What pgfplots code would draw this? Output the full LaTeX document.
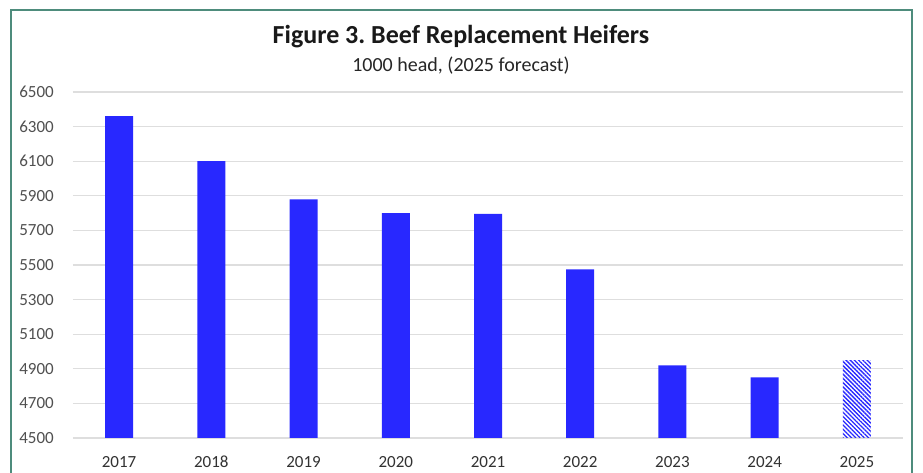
\documentclass[border=0pt]{standalone}
\usepackage{fontspec}
\setmainfont{Carlito}
\usepackage{pgfplots}
\pgfplotsset{compat=1.18}
\usetikzlibrary{patterns.meta}
\definecolor{barblue}{RGB}{40,40,255}
\definecolor{frame}{RGB}{78,140,124}
\definecolor{gridgray}{RGB}{222,222,222}
\definecolor{labgray}{RGB}{80,80,80}
\definecolor{xlabgray}{RGB}{50,50,50}
\begin{document}
\frenchspacing
\begin{tikzpicture}[x=1pt,y=1pt]
\useasboundingbox (0,0) rectangle (923,473);
\fill[white] (0,0) rectangle (923,473);
\draw[frame, line width=2.2pt] (11,0) -- (11,463) -- (912,463) -- (912,0);
\node[font=\bfseries\fontsize{26}{30}\selectfont, text=black!90] at (461,436) {Figure 3. Beef Replacement Heifers};
\node[font=\fontsize{20}{24}\selectfont, text=black!85] at (461,407) {1000 head, (2025 forecast)};
\begin{axis}[
  at={(73pt,35pt)}, anchor=south west,
  scale only axis, width=830pt, height=346pt,
  xmin=-0.5, xmax=8.5, ymin=4500, ymax=6500,
  ytick={4500,4700,...,6500},
  xtick={0,...,8},
  xticklabels={2017,2018,2019,2020,2021,2022,2023,2024,2025},
  ymajorgrids, grid style={draw=gridgray, line width=1.2pt},
  axis line style={draw=none},
  major tick length=0pt,
  /pgf/number format/assume math mode=true,
  /pgf/number format/set thousands separator={},
  yticklabel style={font=\fontsize{17}{20}\selectfont, text=labgray, anchor=east, inner sep=0pt, xshift=-19pt},
  xticklabel style={font=\fontsize{17}{20}\selectfont, text=xlabgray, anchor=base, inner sep=0pt, yshift=-30pt},
  ybar, bar width=28pt, bar shift=0pt,
]
\addplot[fill=barblue, draw=none] coordinates {
  (0,6360) (1,6100) (2,5880) (3,5800) (4,5795) (5,5475) (6,4920) (7,4850)
};
\addplot[draw=none, pattern={Lines[angle=-45, distance=3pt, line width=1.3pt]}, pattern color=barblue] coordinates {
  (8,4950)
};
\end{axis}
\end{tikzpicture}
\end{document}
